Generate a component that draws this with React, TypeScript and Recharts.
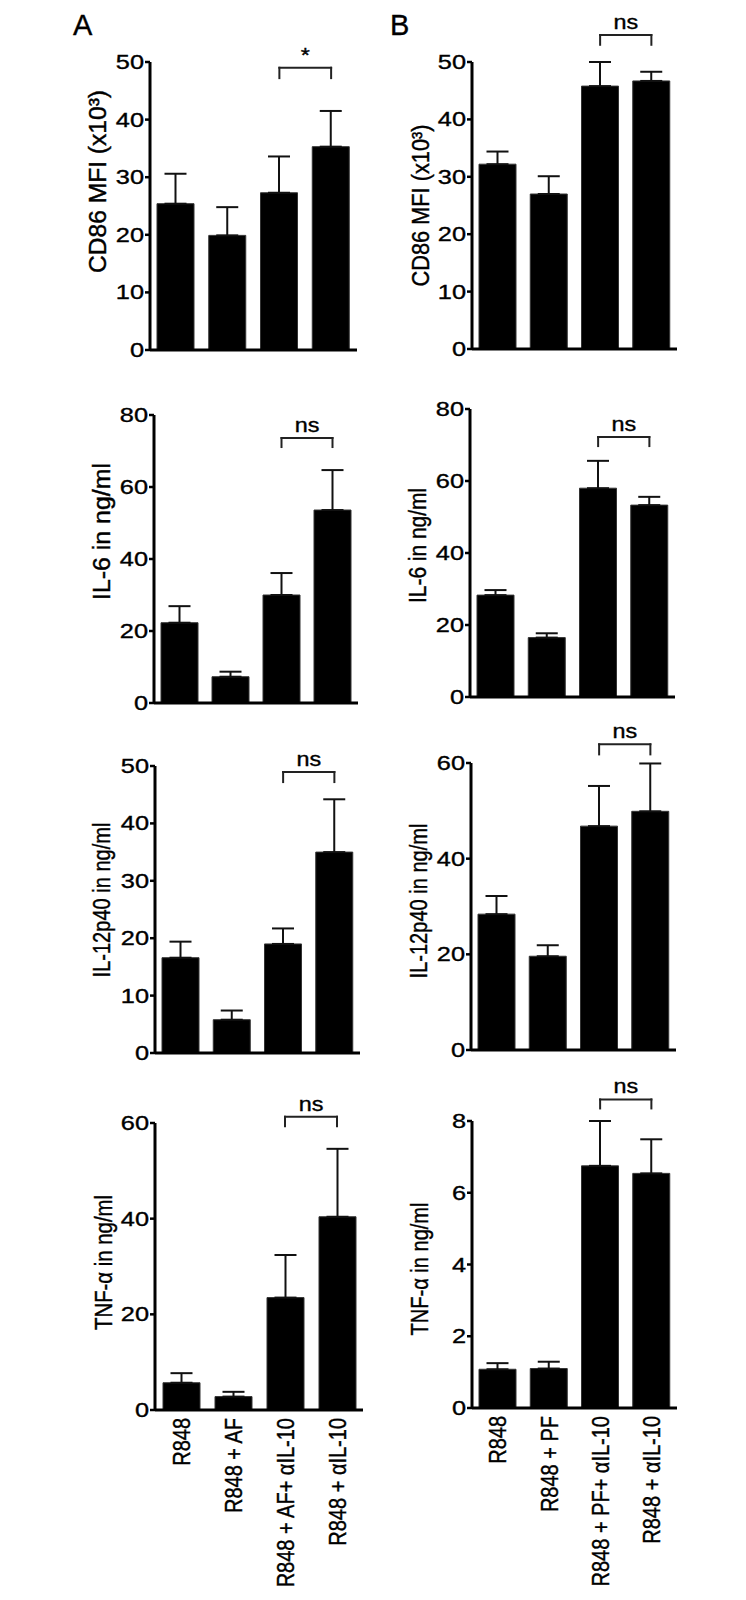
import React from "react";
import { BarChart, Bar, XAxis, YAxis, ErrorBar, ReferenceLine } from "recharts";

const FONT = '"Liberation Sans", Arial, Helvetica, sans-serif';
// type in the figure is drawn a bit wider than tall
const SX = 1.3;

const groupsA = ["R848", "R848 + AF", "R848 + AF+ αIL-10", "R848 + αIL-10"];
const groupsB = ["R848", "R848 + PF", "R848 + PF+ αIL-10", "R848 + αIL-10"];

const cd86A = [25.4, 19.9, 27.3, 35.3];
const cd86ASem = [5.2, 4.9, 6.3, 6.2];
const cd86B = [32.2, 27.0, 45.8, 46.7];
const cd86BSem = [2.2, 3.1, 4.2, 1.6];

const il6A = [22.3, 7.3, 30.0, 53.6];
const il6ASem = [4.6, 1.4, 6.1, 11.1];
const il6B = [28.3, 16.5, 58.0, 53.3];
const il6BSem = [1.4, 1.2, 7.6, 2.3];

const il12A = [16.6, 5.8, 19.0, 35.0];
const il12ASem = [2.8, 1.6, 2.7, 9.2];
const il12B = [28.4, 19.6, 46.8, 49.9];
const il12BSem = [3.8, 2.3, 8.4, 10.0];

const tnfA = [5.7, 2.8, 23.5, 40.4];
const tnfASem = [2.0, 1.0, 8.9, 14.2];
const tnfB = [1.08, 1.1, 6.75, 6.54];
const tnfBSem = [0.17, 0.19, 1.25, 0.95];

const ticks50 = [0, 10, 20, 30, 40, 50];
const ticks80 = [0, 20, 40, 60, 80];
const ticks60 = [0, 20, 40, 60];
const ticks8 = [0, 2, 4, 6, 8];

const cd86Label = "CD86 MFI (x10³)";
const il6Label = "IL-6 in ng/ml";
const il12Label = "IL-12p40 in ng/ml";
const tnfLabel = "TNF-α in ng/ml";

interface Panel {
  left: number;
  top: number;
  height: number;
  plot: [number, number, number, number]; // l, r, t, b (page px)
  groups: string[];
  mean: number[];
  sem: number[];
  ticks: number[];
  label: string;
  labelX: number;
  labelDy: number;
  labelLen: number;
  bracket: [number, number];
  mark: string;
  names?: boolean;
}

const panels: Panel[] = [
  { left: 0, top: 0, height: 370, plot: [150, 357, 62, 350], groups: groupsA, mean: cd86A, sem: cd86ASem, ticks: ticks50, label: cd86Label, labelX: 97, labelDy: -24.5, labelLen: 183, bracket: [49, 1.8], mark: "*" },
  { left: 373, top: 0, height: 370, plot: [472, 677, 62, 349], groups: groupsB, mean: cd86B, sem: cd86BSem, ticks: ticks50, label: cd86Label, labelX: 420, labelDy: 0, labelLen: 162, bracket: [54.7, 1.7], mark: "ns" },
  { left: 0, top: 370, height: 350, plot: [154, 358, 415, 703], groups: groupsA, mean: il6A, sem: il6ASem, ticks: ticks80, label: il6Label, labelX: 101, labelDy: -27.5, labelLen: 137, bracket: [73.6, 2.5], mark: "ns" },
  { left: 373, top: 370, height: 350, plot: [470, 675, 409, 697], groups: groupsB, mean: il6B, sem: il6BSem, ticks: ticks80, label: il6Label, labelX: 417.5, labelDy: -7.5, labelLen: 115, bracket: [72.2, 2.5], mark: "ns" },
  { left: 0, top: 720, height: 355, plot: [155, 360, 766, 1053], groups: groupsA, mean: il12A, sem: il12ASem, ticks: ticks50, label: il12Label, labelX: 101, labelDy: -9.5, labelLen: 155, bracket: [48.95, 1.75], mark: "ns" },
  { left: 373, top: 720, height: 355, plot: [471, 676, 763, 1050], groups: groupsB, mean: il12B, sem: il12BSem, ticks: ticks60, label: il12Label, labelX: 418, labelDy: -5.5, labelLen: 155, bracket: [63.9, 2.1], mark: "ns" },
  { left: 0, top: 1075, height: 525, plot: [155, 363, 1123, 1410], groups: groupsA, mean: tnfA, sem: tnfASem, ticks: ticks60, label: tnfLabel, labelX: 103, labelDy: -4, labelLen: 135, bracket: [61.3, 2.0], mark: "ns", names: true },
  { left: 373, top: 1075, height: 525, plot: [472, 677, 1121, 1408], groups: groupsB, mean: tnfB, sem: tnfBSem, ticks: ticks8, label: tnfLabel, labelX: 419, labelDy: 4.5, labelLen: 133, bracket: [8.6, 0.25], mark: "ns", names: true },
];

const ink = { fill: "#000", stroke: "#000", strokeWidth: 0.35, fontFamily: FONT };

const numTick = (p: any) => (
  <g transform={`translate(${p.x},${p.y})`}>
    <text transform={`scale(${SX},1)`} textAnchor="end" dy="0.36em" fontSize={19.5} {...ink}>
      {p.payload.value}
    </text>
  </g>
);

const nameTick = (p: any) => (
  <g transform={`translate(${p.x},${p.y + 8})`}>
    <text transform={`scale(1.2,1) rotate(-90)`} textAnchor="end" dy="0.36em" fontSize={20} {...ink}>
      {p.payload.value}
    </text>
  </g>
);

function Chart({ cfg }: { cfg: Panel }) {
  const width = 373;
  const [l, r, t, b] = cfg.plot;
  const xh = cfg.names ? 185 : 1;
  const data = cfg.groups.map((g, i) => ({ name: g, value: cfg.mean[i], err: [0, cfg.sem[i]] }));
  const [by, drop] = cfg.bracket;
  const g3 = cfg.groups[2];
  const g4 = cfg.groups[3];
  const lineProps = { stroke: "#222", strokeWidth: 2, strokeLinecap: "square" as const, ifOverflow: "visible" as const };

  const yLabel = (p: any) => {
    const vb = p.viewBox ?? {};
    const cy = (vb.y ?? 0) + (vb.height ?? 0) / 2 + cfg.labelDy;
    return (
      <text
        transform={`translate(${cfg.labelX - cfg.left},${cy}) scale(1.2,1) rotate(-90)`}
        textAnchor="middle"
        dy="0.36em"
        fontSize={20.5}
        textLength={cfg.labelLen}
        lengthAdjust="spacingAndGlyphs"
        {...ink}
      >
        {cfg.label}
      </text>
    );
  };

  const markLabel = (p: any) => {
    const vb = p.viewBox ?? {};
    const cx = (vb.x ?? 0) + (vb.width ?? 0) / 2;
    return (
      <text transform={`translate(${cx},${(vb.y ?? 0) - 6}) scale(1.2,1)`} textAnchor="middle" fontSize={19.5} {...ink}>
        {cfg.mark}
      </text>
    );
  };

  return (
    <div style={{ position: "absolute", left: cfg.left, top: cfg.top }}>
      <BarChart
        width={width}
        height={cfg.height}
        data={data}
        margin={{ top: t - cfg.top, right: cfg.left + width - r, left: 0, bottom: cfg.top + cfg.height - b - xh }}
      >
        <XAxis
          dataKey="name"
          height={xh}
          axisLine={{ stroke: "#000", strokeWidth: 3 }}
          tickLine={false}
          tickSize={0}
          tickMargin={0}
          interval={0}
          tick={cfg.names ? nameTick : false}
        />
        <YAxis
          width={l - cfg.left}
          domain={[0, cfg.ticks[cfg.ticks.length - 1]]}
          ticks={cfg.ticks}
          interval={0}
          axisLine={{ stroke: "#000", strokeWidth: 3 }}
          tickLine={{ stroke: "#000", strokeWidth: 2.5 }}
          tickSize={5}
          tickMargin={1}
          tick={numTick}
          label={yLabel}
        />
        <Bar dataKey="value" fill="#000" stroke="#333" strokeWidth={1} barSize={37} isAnimationActive={false}>
          <ErrorBar dataKey="err" direction="y" width={11} stroke="#111" strokeWidth={2} isAnimationActive={false} />
        </Bar>
        <ReferenceLine segment={[{ x: g3, y: by }, { x: g4, y: by }]} {...lineProps} label={markLabel} />
        <ReferenceLine segment={[{ x: g3, y: by }, { x: g3, y: by - drop }]} {...lineProps} />
        <ReferenceLine segment={[{ x: g4, y: by }, { x: g4, y: by - drop }]} {...lineProps} />
      </BarChart>
    </div>
  );
}

export default function App() {
  return (
    <div style={{ position: "absolute", left: 0, top: 0, width: 746, height: 1600, background: "#fff" }}>
      <svg width={746} height={50} style={{ position: "absolute", left: 0, top: 0 }}>
        <text x={73} y={35} fontSize={29} {...ink}>A</text>
        <text x={390} y={35} fontSize={29} {...ink}>B</text>
      </svg>
      {panels.map((p, i) => (
        <Chart key={i} cfg={p} />
      ))}
    </div>
  );
}
